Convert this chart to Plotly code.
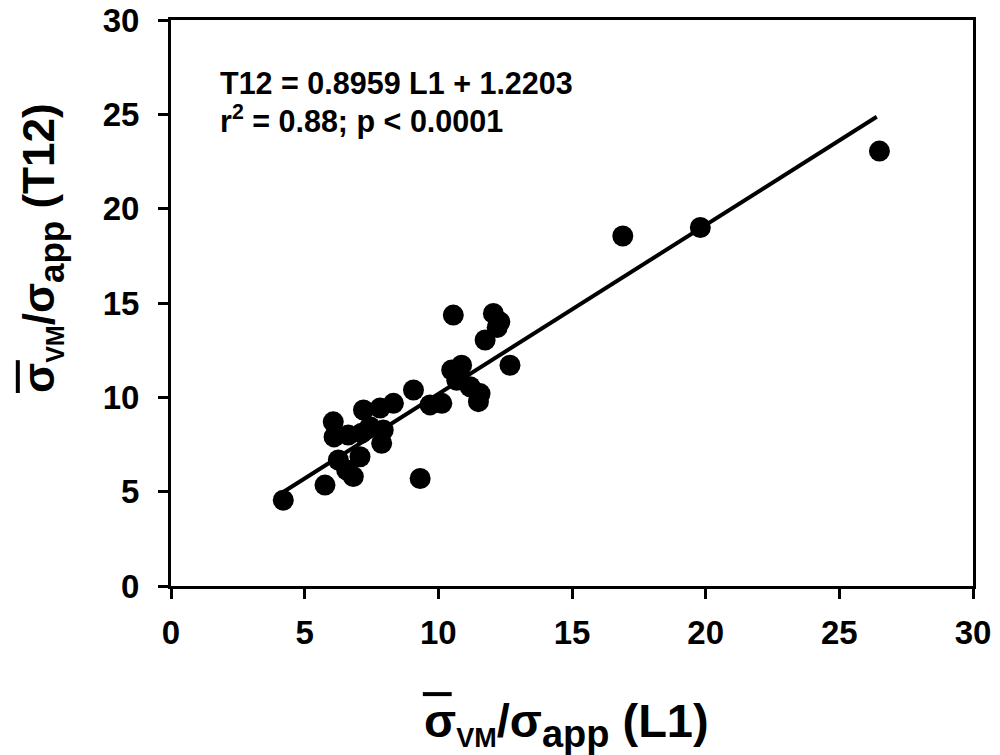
import plotly.graph_objects as go

# Data
l1 = [4.2, 5.76, 6.07, 6.1, 6.63, 6.26, 6.57, 7.07, 7.13, 7.2, 7.88, 7.94, 7.82, 8.32,
      6.82, 7.44, 10.56, 12.06, 12.3, 12.2, 11.75, 12.68, 9.07, 10.5, 10.87, 9.69,
      10.13, 10.69, 11.19, 11.56, 11.5, 9.32, 16.9, 19.8, 26.5]
t12 = [4.55, 5.35, 8.7, 7.9, 8.0, 6.68, 6.15, 6.85, 8.1, 9.33, 7.56, 8.27, 9.43, 9.68,
       5.8, 8.44, 14.36, 14.45, 14.0, 13.7, 13.04, 11.7, 10.39, 11.45, 11.7, 9.6,
       9.68, 10.9, 10.56, 10.2, 9.77, 5.7, 18.55, 19.0, 23.05]
slope = 0.8959
intercept = 1.2203
fit_x = [4.2, 26.4]
fit_y = [slope * v + intercept for v in fit_x]
tick_vals = [0, 5, 10, 15, 20, 25, 30]

FONT = "Liberation Sans, Arial, sans-serif"

fig = go.Figure()
fig.add_trace(go.Scatter(x=fit_x, y=fit_y, mode="lines",
                         line=dict(color="black", width=4), showlegend=False))
fig.add_trace(go.Scatter(x=l1, y=t12, mode="markers",
                         marker=dict(color="black", size=21), showlegend=False))

fig.update_layout(
    width=1000, height=755,
    margin=dict(l=171, r=27, t=20, b=169),
    paper_bgcolor="white", plot_bgcolor="white",
    font=dict(family=FONT, color="black"),
)
axis_common = dict(range=[0, 30], tickvals=tick_vals, showgrid=False, zeroline=False,
                   showline=True, linecolor="black", linewidth=3, mirror=True,
                   ticks="outside", ticklen=10, tickwidth=3, tickcolor="black",
                   automargin=False, ticklabeloverflow="allow",
                   tickfont=dict(family=FONT, size=33, weight="bold"))
fig.update_xaxes(**axis_common, ticklabelstandoff=5)
fig.update_yaxes(**axis_common, ticklabelstandoff=12)

fig.add_annotation(xref="paper", yref="paper", x=0.058, y=0.889, xanchor="left", yanchor="middle",
                   text="<b>T12 = 0.8959 L1 + 1.2203</b>", showarrow=False,
                   font=dict(size=30.5, family=FONT))
fig.add_annotation(xref="paper", yref="paper", x=0.058, y=0.825, xanchor="left", yanchor="middle",
                   text="<b>r<sup>2</sup> = 0.88; p < 0.0001</b>", showarrow=False,
                   font=dict(size=30.5, family=FONT))

title_x = ("<b>σ<sub><span style='font-size:27px'>VM</span></sub>/σ"
           "<sub><span style='font-size:38px'>app</span></sub> (L1)</b>")
title_y = ("<b>σ<sub><span style='font-size:25px'>VM</span></sub>/σ"
           "<sub><span style='font-size:35px'>app</span></sub> (T12)</b>")
fig.add_annotation(xref="paper", yref="paper", x=0.313, y=-0.245, xanchor="left", yanchor="middle",
                   text=title_x, showarrow=False, font=dict(size=47, family=FONT))
fig.add_annotation(xref="paper", yref="paper", x=-0.16, y=0.337, xanchor="center", yanchor="bottom",
                   text=title_y, showarrow=False, textangle=-90, font=dict(size=44, family=FONT))

# overline bars on the sigma symbols in the axis titles
fig.add_shape(type="line", xref="paper", yref="paper", x0=0.314, x1=0.350, y0=-0.191, y1=-0.191,
              line=dict(color="black", width=4))
fig.add_shape(type="line", xref="paper", yref="paper", x0=-0.191, x1=-0.191, y0=0.341, y1=0.399,
              line=dict(color="black", width=4))

fig.write_html("out.html", config={"displayModeBar": False},
               post_script="document.body.style.margin='0';document.body.style.overflow='hidden';")
